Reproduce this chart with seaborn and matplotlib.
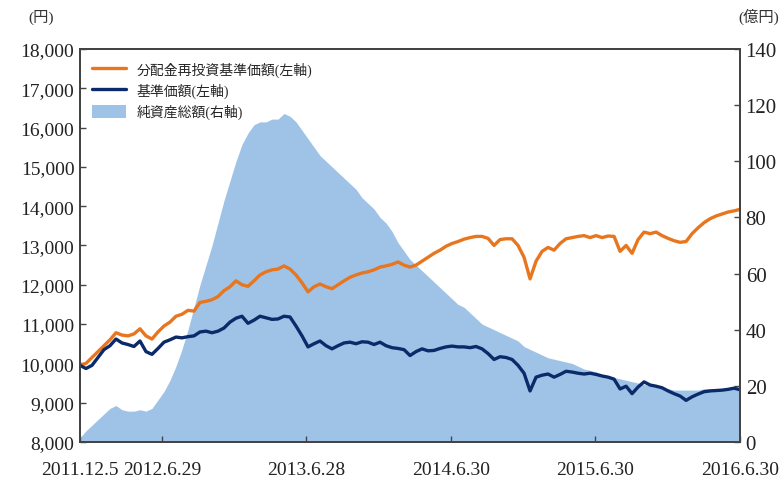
import matplotlib
matplotlib.use("Agg")
import matplotlib.pyplot as plt
import matplotlib.ticker as mticker
from matplotlib.patches import Patch
import seaborn as sns
import numpy as np
import pandas as pd

# 半月ごとの観測点 (2011.12.5 〜 2016.6.30)
dates = pd.date_range("2011-12-05", "2016-06-30", periods=111)

# 分配金再投資基準価額 (円, 左軸)
reinvest_nav = [
    9950, 10000, 10150, 10300, 10450, 10600, 10780, 10720, 10700, 10750,
    10880, 10700, 10620, 10800, 10950, 11050, 11200, 11250, 11350, 11330,
    11550, 11580, 11620, 11700, 11850, 11950, 12100, 12000, 11960, 12100,
    12250, 12330, 12380, 12400, 12480, 12400, 12250, 12050, 11820, 11950,
    12020, 11950, 11900, 12000, 12100, 12190, 12250, 12300, 12330, 12380,
    12450, 12480, 12520, 12580, 12500, 12450, 12500, 12600, 12700, 12800,
    12880, 12980, 13050, 13100, 13160, 13200, 13230, 13230, 13180, 13000,
    13150, 13170, 13170, 13000, 12700, 12150, 12600, 12850, 12950, 12880,
    13050, 13170, 13200, 13230, 13250, 13200, 13250, 13200, 13240, 13230,
    12850, 13000, 12800, 13150, 13340, 13300, 13340, 13250, 13180, 13120,
    13080, 13100, 13300, 13450, 13580, 13680, 13750, 13800, 13850, 13880,
    13920,
]

# 基準価額 (円, 左軸)
nav = [
    9950, 9870, 9950, 10150, 10350, 10450, 10620, 10520, 10480, 10430,
    10570, 10300, 10230, 10380, 10540, 10600, 10670, 10650, 10680, 10700,
    10800, 10820, 10780, 10820, 10900, 11050, 11150, 11200, 11020, 11100,
    11200, 11160, 11120, 11130, 11200, 11180, 10950, 10700, 10420, 10500,
    10570, 10450, 10370, 10450, 10520, 10540, 10500, 10550, 10540, 10480,
    10540, 10450, 10400, 10380, 10350, 10200, 10300, 10370, 10320, 10330,
    10380, 10420, 10440, 10420, 10420, 10400, 10430, 10370, 10250, 10100,
    10170, 10150, 10100, 9950, 9750, 9300, 9650, 9700, 9730, 9650,
    9720, 9800, 9780, 9750, 9730, 9750, 9720, 9680, 9650, 9600,
    9350, 9420, 9230, 9400, 9530, 9450, 9420, 9380, 9300, 9230,
    9170, 9060, 9150, 9220, 9280, 9300, 9310, 9320, 9340, 9370,
    9330,
]

# 純資産総額 (億円, 右軸)
net_assets = [
    1.5, 4, 6, 8, 10, 12, 13, 11.5, 11, 11,
    11.5, 11, 12, 15, 18, 22, 27, 33, 40, 48,
    56, 63, 70, 78, 86, 93, 100, 106, 110, 113,
    114, 114, 115, 115, 117, 116, 114, 111, 108, 105,
    102, 100, 98, 96, 94, 92, 90, 87, 85, 83,
    80, 78, 75, 71, 68, 65, 63, 61, 59, 57,
    55, 53, 51, 49, 48, 46, 44, 42, 41, 40,
    39, 38, 37, 36, 34, 33, 32, 31, 30, 29.5,
    29, 28.5, 28, 27, 26, 25.5, 25, 24, 23.5, 23,
    22.5, 22, 21.5, 21, 20.5, 20, 19.5, 19, 19, 18.5,
    18.5, 18.5, 18.5, 18.5, 19, 19, 19, 19, 19, 19,
    19,
]

tick_dates = ["2011-12-05", "2012-06-29", "2013-06-28", "2014-06-30", "2015-06-30", "2016-06-30"]
tick_labels = ["2011.12.5", "2012.6.29", "2013.6.28", "2014.6.30", "2015.6.30", "2016.6.30"]

label_reinvest = "分配金再投資基準価額(左軸)"
label_nav = "基準価額(左軸)"
label_assets = "純資産総額(右軸)"

df = pd.DataFrame({
    "date": dates,
    "reinvest": reinvest_nav,
    "nav": nav,
    "assets": net_assets,
})

sns.set_style("ticks")
plt.rcParams["font.family"] = ["Liberation Serif", "Noto Sans CJK JP", "DejaVu Sans"]

c_orange = "#E8761E"
c_navy = "#0B2A6A"
c_area = "#9FC3E7"
c_spine = "#444444"

fig = plt.figure(figsize=(7.84, 4.89), dpi=100)
ax = fig.add_axes([0.102, 0.094, 0.842, 0.804])
ax2 = ax.twinx()

# 面グラフ (右軸) は線の後ろに
ax2.fill_between(df["date"], 0, df["assets"], color=c_area, lw=0)
ax.set_zorder(ax2.get_zorder() + 1)
ax.patch.set_visible(False)

sns.lineplot(data=df, x="date", y="reinvest", ax=ax, color=c_orange, lw=2.4)
sns.lineplot(data=df, x="date", y="nav", ax=ax, color=c_navy, lw=2.4)

ax.set_xlim(pd.Timestamp("2011-12-05"), pd.Timestamp("2016-06-30"))
ax.set_ylim(8000, 18000)
ax2.set_ylim(0, 140)
ax.set_yticks(np.arange(8000, 18001, 1000))
ax2.set_yticks(np.arange(0, 141, 20))
ax.yaxis.set_major_formatter(mticker.StrMethodFormatter("{x:,.0f}"))

ax.set_xticks(pd.to_datetime(tick_dates))
ax.set_xticklabels(tick_labels)

ax.set_xlabel("")
ax.set_ylabel("")
ax2.set_ylabel("")

for a in (ax, ax2):
    a.tick_params(axis="both", direction="in", length=4, width=1, color=c_spine,
                  labelsize=14, labelcolor="#222222")
    for s in a.spines.values():
        s.set_color(c_spine)
        s.set_linewidth(1.4)
ax.tick_params(axis="x", pad=14)
ax.tick_params(axis="y", pad=4)
ax2.tick_params(axis="y", pad=4, labelsize=15)

fig.text(0.052, 0.965, "(円)", ha="center", va="center", fontsize=11, color="#333333")
fig.text(0.968, 0.965, "(億円)", ha="center", va="center", fontsize=11, color="#333333")

handles = [
    plt.Line2D([], [], color=c_orange, lw=2.4),
    plt.Line2D([], [], color=c_navy, lw=2.4),
    Patch(facecolor=c_area, edgecolor="none"),
]
ax.legend(handles, [label_reinvest, label_nav, label_assets], loc="upper left",
          bbox_to_anchor=(0.0, 1.0), frameon=False, fontsize=10,
          handlelength=2.4, handleheight=1.1, labelspacing=0.45,
          borderaxespad=0.5, handletextpad=0.8)

fig.savefig("out.png", dpi=100)
